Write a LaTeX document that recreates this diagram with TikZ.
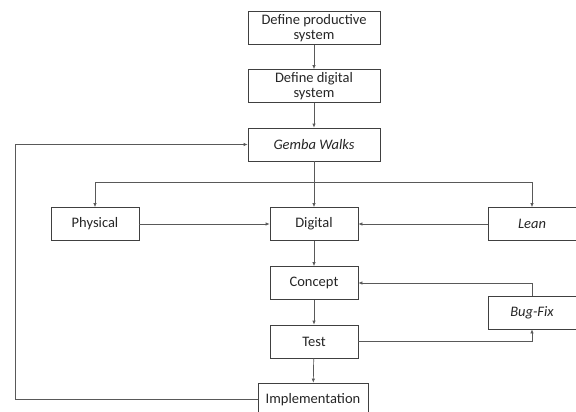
\documentclass[tikz,border=0pt]{standalone}
\usepackage{fontspec}
\setmainfont{Carlito}
\usetikzlibrary{arrows.meta}

\begin{document}
\begin{tikzpicture}[x=1pt, y=-1pt,
  box/.style={draw=black!75, line width=0.7pt, fill=white, align=center,
    minimum width=88pt, minimum height=33pt, inner sep=1pt,
    font=\fontsize{14.5}{15.5}\selectfont, text=black!85},
  link/.style={draw=black!65, line width=0.7pt, -{Latex[length=4pt,width=3.5pt]}}]
\useasboundingbox[fill=white] (0,0) rectangle (576,412);

% Main column
\node[box, minimum width=132pt] (prod) at (314,28) {Define productive\\system};
\node[box, minimum width=132pt] (digsys) at (314,86) {Define digital\\system};
\node[box, minimum width=132pt] (gemba) at (314,144.5) {\itshape Gemba Walks};

% Middle row
\node[box] (physical) at (95,224) {Physical};
\node[box] (digital) at (314,224) {Digital};
\node[box] (lean) at (532,224) {\itshape Lean};

% Lower column
\node[box] (concept) at (314,283) {Concept};
\node[box] (bugfix) at (532,312.5) {\itshape Bug-Fix};
\node[box] (test) at (314,341.5) {Test};
\node[box, minimum width=110pt] (impl) at (313,399.5) {Implementation};

% Helper points
\coordinate (split) at (314,182);
\coordinate (loop) at (15,399.5);

% Connectors
\draw[link] (prod) -- (digsys);
\draw[link] (digsys) -- (gemba);
\draw[link] (gemba) -- (digital);
\draw[link] (split) -| (physical);
\draw[link] (split) -| (lean);
\draw[link] (physical) -- (digital);
\draw[link] (lean) -- (digital);
\draw[link] (digital) -- (concept);
\draw[link] (concept) -- (test);
\draw[link] (test) -- (impl);
\draw[link] (test) -| (bugfix);
\draw[link] (bugfix) |- (concept);
\draw[link] (impl) -- (loop) |- (gemba);
\end{tikzpicture}
\end{document}
